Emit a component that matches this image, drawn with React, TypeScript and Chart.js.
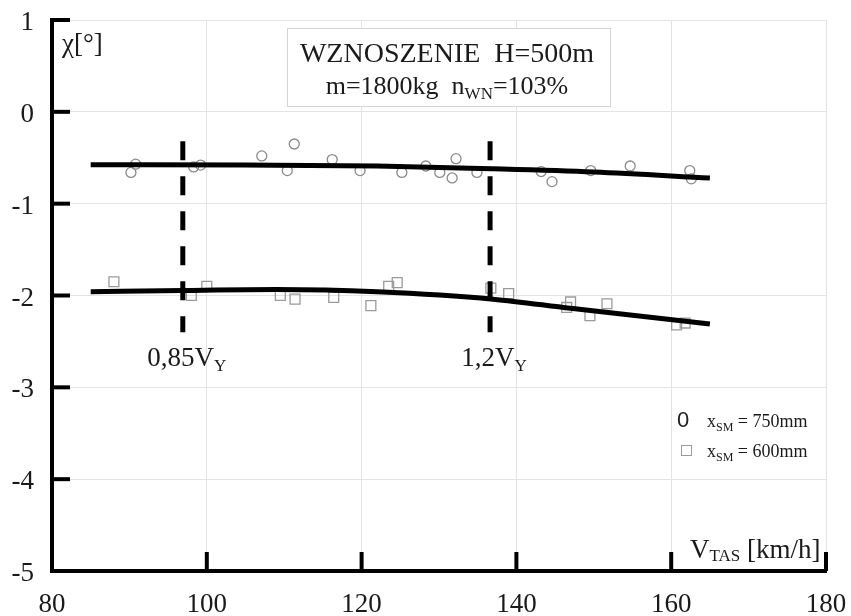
import React, { useEffect, useRef } from "react";
import { Chart, registerables } from "chart.js";

Chart.register(...registerables);

// ---- data ----
const circleX = [90.2, 90.8, 98.3, 99.2, 107.1, 110.4, 111.3, 116.2, 119.8, 125.2, 128.3, 130.1, 131.7, 132.2, 134.9, 143.2, 144.6, 149.6, 154.7, 162.4, 162.6];
const circleY = [-0.66, -0.57, -0.6, -0.58, -0.48, -0.64, -0.35, -0.52, -0.64, -0.66, -0.59, -0.66, -0.72, -0.51, -0.66, -0.65, -0.76, -0.64, -0.59, -0.64, -0.73];
const squareX = [88.0, 98.0, 100.0, 109.5, 111.4, 116.4, 121.2, 123.5, 124.6, 136.7, 139.0, 146.5, 147.0, 149.5, 151.7, 160.7, 161.8];
const squareY = [-1.85, -2.0, -1.9, -2.0, -2.04, -2.02, -2.11, -1.9, -1.86, -1.92, -1.98, -2.13, -2.07, -2.22, -2.09, -2.32, -2.3];
const fitUpperX = [85, 105, 122, 137, 150, 165];
const fitUpperY = [-0.575, -0.58, -0.59, -0.62, -0.655, -0.72];
const fitLowerX = [85, 97, 109, 122, 137, 147, 165];
const fitLowerY = [-1.96, -1.945, -1.935, -1.96, -2.04, -2.14, -2.31];
const refSpeeds = [96.9, 136.6];
const refLabels = ["0,85V", "1,2V"];
const refRange = [-0.32, -2.4];
const xTickValues = [80, 100, 120, 140, 160, 180];
const yTickValues = [1, 0, -1, -2, -3, -4, -5];
const legendLabels = ["= 750mm", "= 600mm"];

const SERIF = "'Liberation Serif', 'Times New Roman', serif";
const SANS = "'Liberation Sans', Arial, sans-serif";

type Part = { t: string; size: number; dy?: number; font?: string };

function drawRich(ctx: CanvasRenderingContext2D, parts: Part[], x: number, y: number, align: "left" | "center" | "right") {
  let w = 0;
  for (const p of parts) {
    ctx.font = `${p.size}px ${p.font || SERIF}`;
    w += ctx.measureText(p.t).width;
  }
  let cx = align === "center" ? x - w / 2 : align === "right" ? x - w : x;
  ctx.textAlign = "left";
  ctx.textBaseline = "alphabetic";
  for (const p of parts) {
    ctx.font = `${p.size}px ${p.font || SERIF}`;
    ctx.fillText(p.t, cx, y + (p.dy || 0));
    cx += ctx.measureText(p.t).width;
  }
}

const decorPlugin = {
  id: "decor",
  afterDraw(chart: any) {
    const ctx: CanvasRenderingContext2D = chart.ctx;
    const xs = chart.scales.x;
    const ys = chart.scales.y;
    const area = chart.chartArea;
    ctx.save();
    // inward ticks
    ctx.strokeStyle = "#000";
    ctx.lineWidth = 4;
    ctx.lineCap = "butt";
    for (const v of yTickValues) {
      if (v === -5) continue;
      const py = ys.getPixelForValue(v);
      ctx.beginPath();
      ctx.moveTo(area.left, py);
      ctx.lineTo(area.left + 18, py);
      ctx.stroke();
    }
    for (const v of xTickValues) {
      if (v === 80) continue;
      const px = xs.getPixelForValue(v);
      ctx.beginPath();
      ctx.moveTo(px, area.bottom);
      ctx.lineTo(px, area.bottom - 19);
      ctx.stroke();
    }

    ctx.fillStyle = "#1a1a1a";
    // tick labels
    for (const v of yTickValues) {
      drawRich(ctx, [{ t: String(v), size: 27 }], 34, ys.getPixelForValue(v) + 10, "right");
    }
    for (const v of xTickValues) {
      drawRich(ctx, [{ t: String(v), size: 27 }], xs.getPixelForValue(v), 612, "center");
    }

    // y-axis title
    drawRich(ctx, [{ t: "χ[°]", size: 27 }], area.left + 10, 52, "left");
    // x-axis title
    drawRich(
      ctx,
      [
        { t: "V", size: 27 },
        { t: "TAS", size: 17, dy: 3 },
        { t: " [km/h]", size: 27 },
      ],
      690,
      558,
      "left"
    );

    // title box
    ctx.fillStyle = "#fff";
    ctx.fillRect(287, 28, 323, 78);
    ctx.strokeStyle = "#d4d4d4";
    ctx.lineWidth = 1;
    ctx.strokeRect(287.5, 28.5, 323, 78);
    ctx.fillStyle = "#1a1a1a";
    drawRich(ctx, [{ t: "WZNOSZENIE  H=500m", size: 28 }], 447, 62, "center");
    drawRich(
      ctx,
      [
        { t: "m=1800kg  n", size: 26 },
        { t: "WN", size: 17, dy: 5 },
        { t: "=103%", size: 26 },
      ],
      447,
      94,
      "center"
    );

    // reference speed labels
    refSpeeds.forEach((s, i) => {
      const px = xs.getPixelForValue(s);
      drawRich(
        ctx,
        [
          { t: refLabels[i], size: 27 },
          { t: "Y", size: 17, dy: 5 },
        ],
        px + 4,
        366,
        "center"
      );
    });

    // legend
    ctx.fillStyle = "#222";
    drawRich(ctx, [{ t: "0", size: 22, font: SANS }], 677, 427, "left");
    ctx.strokeStyle = "#9a9a9a";
    ctx.lineWidth = 1;
    ctx.strokeRect(681.5, 445.5, 10, 10);
    ctx.fillStyle = "#1a1a1a";
    [427, 457].forEach((by, i) => {
      drawRich(
        ctx,
        [
          { t: "x", size: 18 },
          { t: "SM", size: 12, dy: 4 },
          { t: " " + legendLabels[i], size: 18 },
        ],
        707,
        by,
        "left"
      );
    });
    ctx.restore();
  },
};

export default function App() {
  const ref = useRef<HTMLCanvasElement | null>(null);
  useEffect(() => {
    if (!ref.current) return;
    const dashed = (x: number) => ({
      type: "line",
      data: refRange.map((y) => ({ x, y })),
      borderColor: "#000",
      borderWidth: 5,
      borderDash: [19, 16],
      pointRadius: 0,
      showLine: true,
    });
    const chart = new Chart(ref.current, {
      type: "scatter",
      data: {
        datasets: [
          dashed(refSpeeds[0]) as any,
          dashed(refSpeeds[1]) as any,
          {
            type: "line",
            data: fitUpperX.map((x, i) => ({ x, y: fitUpperY[i] })),
            borderColor: "#000",
            borderWidth: 5,
            pointRadius: 0,
            cubicInterpolationMode: "monotone",
            showLine: true,
          } as any,
          {
            type: "line",
            data: fitLowerX.map((x, i) => ({ x, y: fitLowerY[i] })),
            borderColor: "#000",
            borderWidth: 5,
            pointRadius: 0,
            cubicInterpolationMode: "monotone",
            showLine: true,
          } as any,
          {
            data: circleX.map((x, i) => ({ x, y: circleY[i] })),
            pointStyle: "circle",
            pointRadius: 5,
            borderColor: "#8a8a8a",
            borderWidth: 1.3,
            backgroundColor: "rgba(0,0,0,0)",
          },
          {
            data: squareX.map((x, i) => ({ x, y: squareY[i] })),
            pointStyle: "rect",
            pointRadius: 7,
            borderColor: "#9a9a9a",
            borderWidth: 1.3,
            backgroundColor: "rgba(0,0,0,0)",
          },
        ],
      },
      options: {
        animation: false,
        responsive: false,
        layout: { padding: { top: 20, right: 25, left: 0, bottom: 0 } },
        plugins: { legend: { display: false }, tooltip: { enabled: false } },
        scales: {
          x: {
            type: "linear",
            min: 80,
            max: 180,
            afterBuildTicks: (s: any) => {
              s.ticks = xTickValues.map((v) => ({ value: v }));
            },
            afterFit: (s: any) => {
              s.height = 45;
            },
            ticks: { display: false },
            grid: { color: "#e3e3e3", lineWidth: 1, drawTicks: false },
            border: { display: true, color: "#000", width: 4 },
          },
          y: {
            type: "linear",
            min: -5,
            max: 1,
            afterBuildTicks: (s: any) => {
              s.ticks = yTickValues.map((v) => ({ value: v }));
            },
            afterFit: (s: any) => {
              s.width = 52;
            },
            ticks: { display: false },
            grid: { color: "#e3e3e3", lineWidth: 1, drawTicks: false },
            border: { display: true, color: "#000", width: 4 },
          },
        },
      },
      plugins: [decorPlugin],
    } as any);
    return () => chart.destroy();
  }, []);
  return (
    <div style={{ position: "fixed", left: 0, top: 0, width: 851, height: 616, background: "#fff" }}>
      <canvas ref={ref} width={851} height={616} />
    </div>
  );
}
